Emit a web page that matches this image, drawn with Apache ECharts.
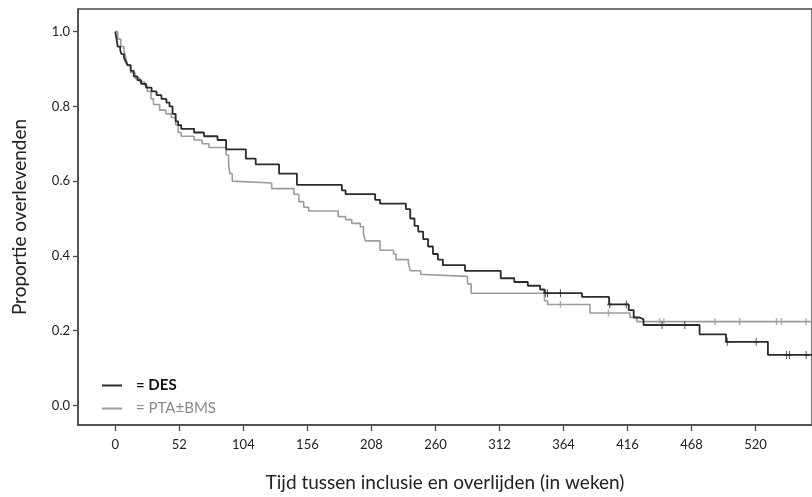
<!DOCTYPE html>
<html>
<head>
<meta charset="utf-8">
<script src="https://cdn.jsdelivr.net/npm/echarts@6/dist/echarts.min.js"></script>
<style>
html,body{margin:0;padding:0;background:#fff;}
#chart{width:812px;height:497px;}
</style>
</head>
<body>
<div id="chart"></div>
<script>
// ---- Data (weeks, survival proportion after each event) ----
var xTicks = [0, 52, 104, 156, 208, 260, 312, 364, 416, 468, 520];
var yTicks = [0, 0.2, 0.4, 0.6, 0.8, 1.0];

var desTimes = [0,1,2,4,5,7,8.5,10,12.5,15,18,21,25,29.5,33.5,37.5,41.5,44,46.5,49,51,53.5,64,72,83,90,106,114,133,147.5,184,187,211,215,236,239.5,243,246,250,254,258,262,266,284,313,324,335,345,348.5,379,401,417,421,426,429,474.5,496,530];
var desSurv  = [1.0,0.98,0.96,0.95,0.94,0.93,0.92,0.91,0.895,0.88,0.87,0.86,0.85,0.84,0.83,0.82,0.81,0.80,0.78,0.76,0.75,0.74,0.73,0.72,0.71,0.685,0.66,0.645,0.62,0.59,0.575,0.565,0.55,0.54,0.525,0.50,0.48,0.465,0.445,0.425,0.405,0.39,0.375,0.36,0.34,0.33,0.32,0.31,0.30,0.29,0.27,0.255,0.235,0.23,0.215,0.19,0.17,0.135];
var desCensor = [349.5, 351, 361.5, 401.5, 415, 444, 462.5, 497, 520.5, 545, 547.5, 561];
var desEnd = 566;

var ptaTimes = [0,2,4.5,7,8.5,10,12.5,16,20,24,26,29,31,36,41,45.5,49,51,53.5,64,70.5,76,90,92,93,95,96.5,127,145,149,153,157,181,187,192,199,201.5,203,215,226,228,238,239.5,248,250,286,289,348.5,351,385.5,418,423.5];
var ptaSurv  = [1.0,0.98,0.96,0.95,0.93,0.91,0.89,0.875,0.865,0.855,0.84,0.82,0.805,0.79,0.78,0.77,0.75,0.73,0.72,0.71,0.70,0.69,0.67,0.645,0.62,0.60,0.595,0.58,0.565,0.545,0.53,0.52,0.505,0.497,0.487,0.478,0.46,0.44,0.415,0.405,0.39,0.38,0.36,0.35,0.345,0.325,0.30,0.28,0.27,0.247,0.235,0.224];
var ptaCensor = [361.5, 400.5, 442, 445.5, 487, 507, 537, 541, 561];
var ptaEnd = 566;

// ---- helpers ----
function survAt(times, surv, t) {
  var v = surv[0];
  for (var i = 0; i < times.length; i++) { if (times[i] <= t) v = surv[i]; }
  return v;
}
function stepData(times, surv, end) {
  var d = times.map(function (t, i) { return [t, surv[i]]; });
  d.push([end, surv[surv.length - 1]]);
  return d;
}
function censorData(times, surv, cens) {
  return cens.map(function (t) { return [t, survAt(times, surv, t)]; });
}

var FONT = 'Lato, "Liberation Sans", sans-serif';
var DES_COLOR = '#2b2b2b';
var PTA_COLOR = '#9c9c9c';
var AXIS_COLOR = '#4a4a4a';
var plusPath = 'path://M4,0H6V4H10V6H6V10H4V6H0V4H4Z';

var chart = echarts.init(document.getElementById('chart'), null, {renderer: 'canvas'});
chart.setOption({
  animation: false,
  backgroundColor: '#fff',
  grid: {left: 78, right: -4, top: 9, bottom: 65, containLabel: false,
         show: true, borderColor: AXIS_COLOR, borderWidth: 1.5, backgroundColor: 'transparent'},
  legend: {
    orient: 'vertical',
    left: 97,
    top: 373,
    itemWidth: 20,
    itemHeight: 2,
    itemGap: 8,
    icon: 'path://M0,0H20V2H0Z',
    formatter: '= {name}',
    textStyle: {fontFamily: FONT, fontSize: 15, padding: [0, 0, 0, 9]},
    data: [
      {name: 'DES', textStyle: {color: '#111', fontWeight: 'bold'}},
      {name: 'PTA±BMS', textStyle: {color: '#8a8a8a'}}
    ],
    selectedMode: false
  },
  xAxis: {
    type: 'value',
    min: -30.3,
    max: 565.8,
    name: 'Tijd tussen inclusie en overlijden (in weken)',
    nameLocation: 'middle',
    nameGap: 48,
    nameTextStyle: {fontFamily: FONT, fontSize: 19, color: '#222'},
    axisLine: {show: true, onZero: false, lineStyle: {color: AXIS_COLOR, width: 1.5}},
    axisTick: {show: true, length: 6, customValues: xTicks, lineStyle: {color: AXIS_COLOR, width: 1.3}},
    axisLabel: {customValues: xTicks, margin: 13, fontFamily: FONT, fontSize: 13, color: '#222'},
    splitLine: {show: false}
  },
  yAxis: {
    type: 'value',
    min: -0.0526,
    max: 1.0605,
    name: 'Proportie overlevenden',
    nameLocation: 'middle',
    nameGap: 49,
    nameTextStyle: {fontFamily: FONT, fontSize: 19, color: '#222'},
    axisLine: {show: true, onZero: false, lineStyle: {color: AXIS_COLOR, width: 1.5}},
    axisTick: {show: true, length: 5, customValues: yTicks, lineStyle: {color: AXIS_COLOR, width: 1.3}},
    axisLabel: {
      customValues: yTicks, margin: 8, fontFamily: FONT, fontSize: 13, color: '#222',
      formatter: function (v) { return v.toFixed(1); }
    },
    splitLine: {show: false}
  },
  series: [
    {
      name: 'PTA±BMS', type: 'line', step: 'end', showSymbol: false, symbol: 'none',
      data: stepData(ptaTimes, ptaSurv, ptaEnd),
      lineStyle: {color: PTA_COLOR, width: 1.6}, itemStyle: {color: PTA_COLOR}, z: 2
    },
    {
      name: 'DES', type: 'line', step: 'end', showSymbol: false, symbol: 'none',
      data: stepData(desTimes, desSurv, desEnd),
      lineStyle: {color: DES_COLOR, width: 1.8}, itemStyle: {color: DES_COLOR}, z: 3
    },
    {
      name: 'PTA±BMS gecensureerd', type: 'scatter', symbol: 'rect', symbolSize: [1.5, 7],
      data: censorData(ptaTimes, ptaSurv, ptaCensor),
      itemStyle: {color: PTA_COLOR}, z: 4
    },
    {
      name: 'DES gecensureerd', type: 'scatter', symbol: plusPath, symbolSize: [5, 8],
      data: censorData(desTimes, desSurv, desCensor),
      itemStyle: {color: DES_COLOR}, z: 5
    }
  ]
});
</script>
</body>
</html>
